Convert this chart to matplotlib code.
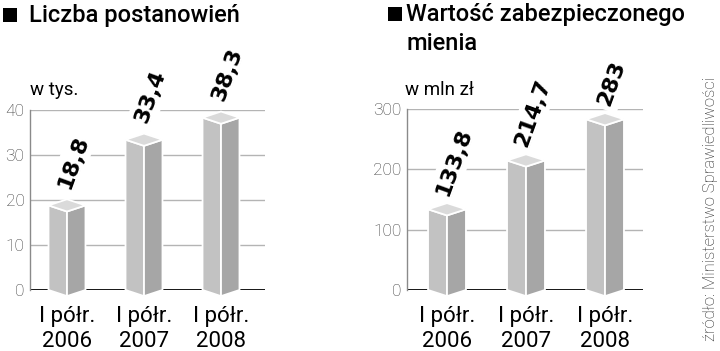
import matplotlib
matplotlib.use("Agg")
import matplotlib.pyplot as plt
from matplotlib.patches import Polygon, Rectangle

categories = ["I półr.\n2006", "I półr.\n2007", "I półr.\n2008"]
left_values = [18.8, 33.4, 38.3]
left_labels = ["18,8", "33,4", "38,3"]
left_ticks = [0, 10, 20, 30, 40]
right_values = [133.8, 214.7, 283]
right_labels = ["133,8", "214,7", "283"]
right_ticks = [0, 100, 200, 300]

left_title = "Liczba postanowień"
right_title_1 = "Wartość zabezpieczonego"
right_title_2 = "mienia"
left_unit = "w tys."
right_unit = "w mln zł"
source = "źródło: Ministerstwo Sprawiedliwości"

W, H = 720, 351
fig = plt.figure(figsize=(7.2, 3.51), dpi=100)

LIGHT = "Roboto"
FRONT = "#c2c2c2"
SIDE = "#a6a6a6"
TOP = "#dadada"
GRID = "#b4b4b4"


def px_ax(x0, x1, y0, y1):
    return fig.add_axes([x0 / W, 1 - y1 / H, (x1 - x0) / W, (y1 - y0) / H])


def draw_panel(ax, values, labels, ticks, xlim, ymax, lab_dx, lab_dy):
    ax.set_xlim(*xlim)
    ax.set_ylim(0, ymax)
    for s in ["top", "right", "bottom"]:
        ax.spines[s].set_visible(False)
    ax.spines["left"].set_color("#8a8a8a")
    ax.spines["left"].set_linewidth(1.0)
    ax.set_xticks([])
    ax.set_yticks(ticks)
    ax.set_yticklabels([str(t) for t in ticks], fontfamily=LIGHT,
                       fontweight="light", fontsize=12.5, color="#3a3a3a")
    ax.tick_params(axis="y", length=0, pad=4)
    for t in ticks[1:]:
        ax.axhline(t, color=GRID, lw=1.0, zorder=1)
    ax.axhline(0, color="black", lw=2.0, zorder=1.5)
    w = 0.24
    d = ymax * 0.034
    for i, v in enumerate(values):
        left = Polygon([(i - w, 0), (i - w, v), (i, v - d), (i, -d)],
                       closed=True, fc=FRONT, ec="white", lw=1.3,
                       zorder=3, clip_on=False)
        right = Polygon([(i, -d), (i, v - d), (i + w, v), (i + w, 0)],
                        closed=True, fc=SIDE, ec="white", lw=1.3,
                        zorder=3, clip_on=False)
        top = Polygon([(i - w, v), (i, v + d), (i + w, v), (i, v - d)],
                      closed=True, fc=TOP, ec="white", lw=1.3,
                      zorder=3, clip_on=False)
        for p in (left, right, top):
            ax.add_patch(p)
        ax.annotate(labels[i], xy=(i, v), xytext=(lab_dx, lab_dy),
                    textcoords="offset pixels", rotation=70,
                    ha="center", va="bottom", fontsize=16,
                    fontweight="bold", fontfamily="DejaVu Sans",
                    color="black", zorder=5,
                    bbox=dict(boxstyle="square,pad=0.2", fc="white",
                              ec="none"))
    for i, c in enumerate(categories):
        ax.text(i, -0.09 * ymax, c, ha="center", va="top",
                fontfamily=LIGHT, fontweight="normal", fontsize=16,
                linespacing=1.25, color="black",
                transform=ax.transData)


axL = px_ax(30, 265, 110, 290)
draw_panel(axL, left_values, left_labels, left_ticks,
           ((30 - 67) / 77, (265 - 67) / 77), 40, 6, 14)
axR = px_ax(407, 643, 109, 290)
draw_panel(axR, right_values, right_labels, right_ticks,
           ((407 - 447) / 79, (643 - 447) / 79), 300, 7, 11)

# titles
fig.patches.append(Rectangle((3 / W, 1 - 22 / H), 14 / W, 14 / H,
                             transform=fig.transFigure, fc="black",
                             ec="none"))
fig.patches.append(Rectangle((388 / W, 1 - 21 / H), 14 / W, 14 / H,
                             transform=fig.transFigure, fc="black",
                             ec="none"))
title_kw = dict(ha="left", va="baseline", fontfamily="Roboto",
                fontweight="medium", fontsize=17)
fig.text(29 / W, 1 - 22 / H, left_title, **title_kw)
fig.text(406 / W, 1 - 21 / H, right_title_1, **title_kw)
fig.text(406 / W, 1 - 50 / H, right_title_2, **title_kw)
fig.text(30 / W, 1 - 95 / H, left_unit, ha="left", va="baseline",
         fontfamily=LIGHT, fontweight="normal", fontsize=13.5)
fig.text(405 / W, 1 - 95 / H, right_unit, ha="left", va="baseline",
         fontfamily=LIGHT, fontweight="normal", fontsize=13.5)
fig.text(711 / W, 1 - 341 / H, source, rotation=90, ha="center",
         va="bottom", fontfamily=LIGHT, fontweight="light", fontsize=12,
         color="#222222")

fig.savefig("out.png", dpi=100, facecolor="white")
